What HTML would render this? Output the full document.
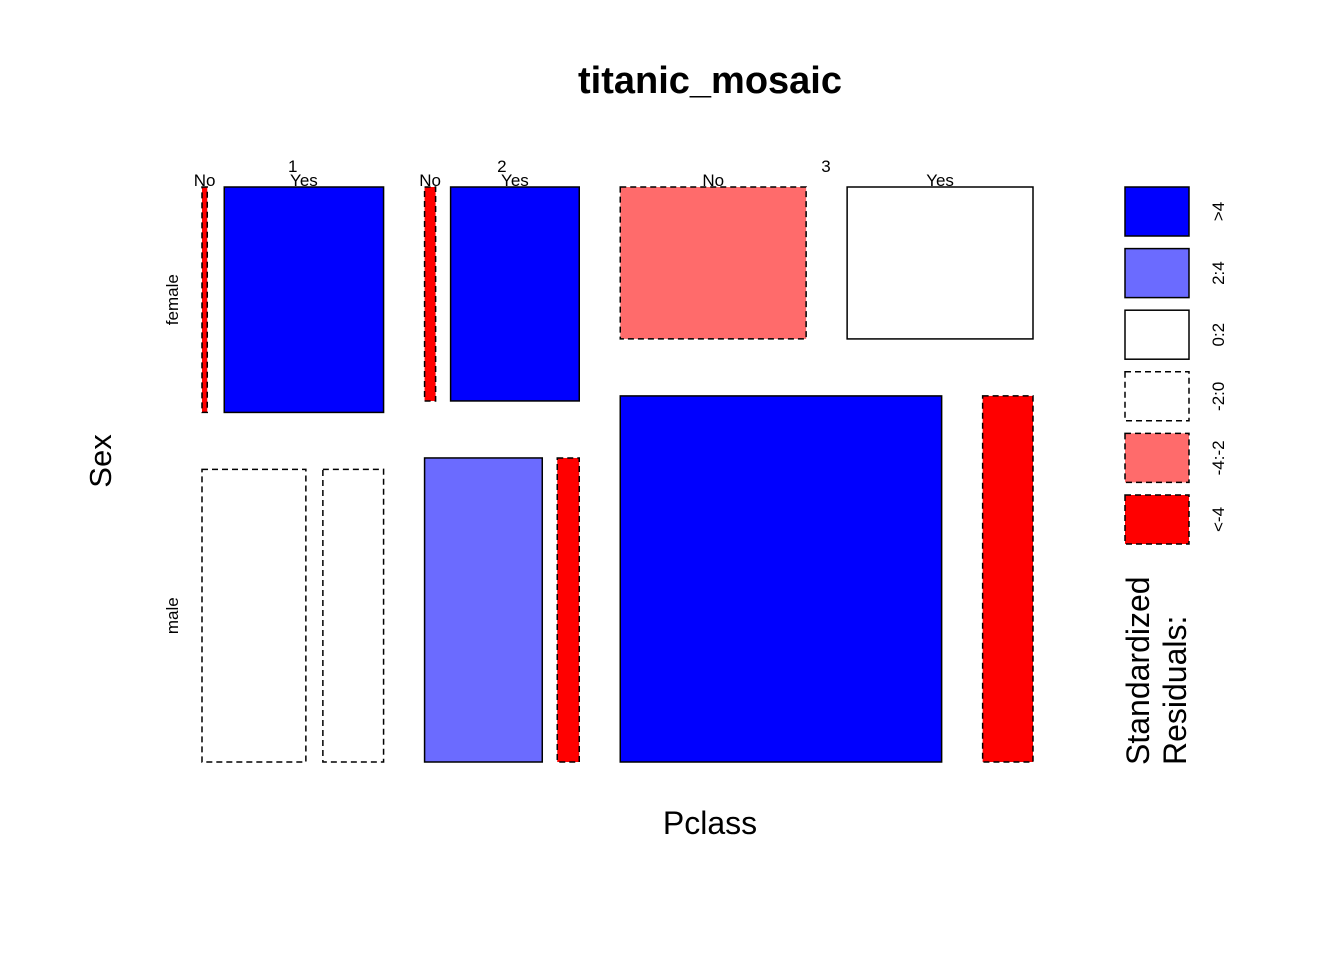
<!DOCTYPE html>
<html><head><meta charset="utf-8"><style>
body{margin:0;background:#fff}
svg{display:block;font-family:"Liberation Sans",Arial,sans-serif}
</style></head><body>
<svg id="c" width="1344" height="960">
<text x="710" y="93" text-anchor="middle" font-size="38" font-weight="bold">titanic_mosaic</text>
<text x="710" y="834" text-anchor="middle" font-size="32">Pclass</text>
<text transform="translate(111,461) rotate(-90)" text-anchor="middle" font-size="31">Sex</text>
<g id="cells"></g><g id="legend"></g>
</svg>
<script>
const classes=["1","2","3"];
const sexes=["female","male"];
const survived=["No","Yes"];
// counts [class][sex][survived]
const countsFemale=[[3,91],[6,70],[72,72]];
const countsMale=[[77,45],[91,17],[300,47]];
// residual category index into legend (0:>4,1:2:4,2:0:2,3:-2:0,4:-4:-2,5:<-4)
const resFemale=[[5,0],[5,0],[4,2]];
const resMale=[[3,3],[1,5],[0,5]];
const legendLabels=[">4","2:4","0:2","-2:0","-4:-2","<-4"];
const fills=["#0000FF","#6B6BFF","#FFFFFF","#FFFFFF","#FF6B6B","#FF0000"];
const dashed=[false,false,false,true,true,true];

const NS="http://www.w3.org/2000/svg";
const svg=document.getElementById('c');
const cells=document.getElementById('cells');
const X0=202,X1=1033,Y0=187,Y1=762,GX=41,GY=57;
const innerGap=[17,15,41];
function mk(tag,attrs,parent){const e=document.createElementNS(NS,tag);for(const k in attrs)e.setAttribute(k,attrs[k]);parent.appendChild(e);return e;}
const classTot=classes.map((c,i)=>countsFemale[i][0]+countsFemale[i][1]+countsMale[i][0]+countsMale[i][1]);
const grand=classTot.reduce((a,b)=>a+b,0);
const W=X1-X0-GX*(classes.length-1), H=Y1-Y0-GY;
let x=X0;
classes.forEach((c,i)=>{
  const w=classTot[i]/grand*W;
  const t=mk('text',{x:x+w/2,y:172,'text-anchor':'middle','font-size':17},svg);t.textContent=c;
  
  
  if(i==2){t.setAttribute('x',826);}
  const rows=[countsFemale[i],countsMale[i]], res=[resFemale[i],resMale[i]];
  let y=Y0;
  rows.forEach((r,s)=>{
    const tot=r[0]+r[1];
    const h=tot/classTot[i]*H;
    const cw=w-innerGap[i];
    let cx=x;
    r.forEach((v,k)=>{
      const ww=v/tot*cw;
      const ri=res[s][k];
      const rc=mk('rect',{x:cx,y:y,width:Math.max(ww,1),height:h,fill:fills[ri],stroke:'#000','stroke-width':1.5},cells);
      if(dashed[ri])rc.setAttribute('stroke-dasharray','6,4');
      
      
      if(s==0){
        const lt=mk('text',{x:cx+ww/2,y:186,'text-anchor':'middle','font-size':17},svg);lt.textContent=survived[k];
        
        
      }
      cx+=ww+innerGap[i];
    });
    if(i==0){
      const st=mk('text',{transform:`translate(178,${y+h/2}) rotate(-90)`,'text-anchor':'middle','font-size':17},svg);st.textContent=sexes[s];
      
      
    }
    y+=h+GY;
  });
  x+=w+GX;
});
const lg=document.getElementById('legend');
legendLabels.forEach((l,j)=>{
  const y=187+j*61.6;
  const r=mk('rect',{x:1125,y:y,width:64,height:49,fill:fills[j],stroke:'#000','stroke-width':1.5},lg);
  if(dashed[j])r.setAttribute('stroke-dasharray','6,4');
  
  
  const t=mk('text',{transform:`translate(1224,${y+24.5}) rotate(-90)`,'text-anchor':'middle','font-size':17},lg);t.textContent=l;
  
  
});
[["Standardized",1149],["Residuals:",1186]].forEach((p,j)=>{
  const t=mk('text',{transform:`translate(${p[1]},765) rotate(-90)`,'font-size':32},lg);t.textContent=p[0];
  
  
});
</script>
</body></html>
